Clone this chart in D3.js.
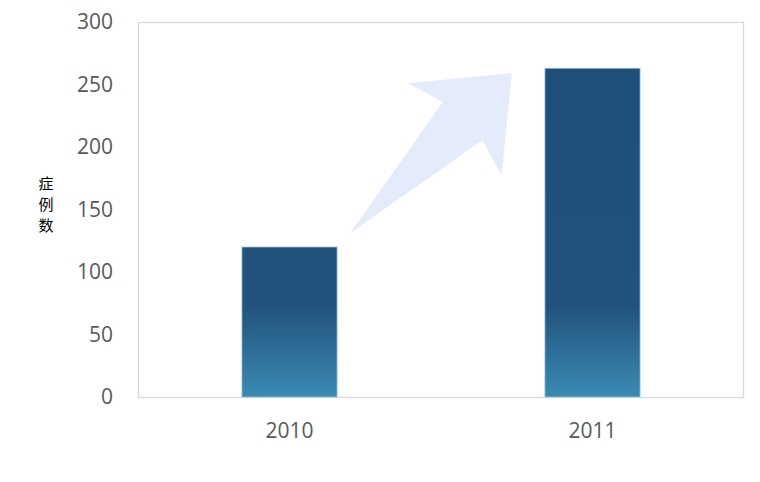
<!DOCTYPE html>
<html><head><meta charset="utf-8">
<script src="https://cdn.jsdelivr.net/npm/d3@7/dist/d3.min.js"></script>
<style>body{margin:0;background:#fff}</style>
</head><body>
<svg id="c" width="760" height="482"></svg>
<script>
const categories = ["2010", "2011"];
const values = [120, 263];
const yTicks = [0, 50, 100, 150, 200, 250, 300];
const yLabelChars = ["症", "例", "数"];

const svg = d3.select("#c");
const m = {left: 138, right: 16, top: 22, bottom: 85};
const W = 760, H = 482;
const x = d3.scaleBand().domain(categories).range([m.left, W - m.right]).paddingInner(0.686).paddingOuter(0.343);
const y = d3.scaleLinear().domain([0, 300]).range([H - m.bottom, m.top]);

const defs = svg.append("defs");
const g = defs.append("linearGradient").attr("id", "bg").attr("gradientUnits", "userSpaceOnUse")
  .attr("x1", 0).attr("x2", 0).attr("y1", y(300)).attr("y2", y(0));
g.append("stop").attr("offset", 0).attr("stop-color", "#1f4d77");
g.append("stop").attr("offset", 0.76).attr("stop-color", "#22537d");
g.append("stop").attr("offset", 1).attr("stop-color", "#3a8ab3");

// plot frame
svg.append("rect").attr("x", m.left + 0.5).attr("y", y(300) + 0.5)
  .attr("width", W - m.right - m.left - 1).attr("height", y(0) - y(300))
  .attr("fill", "none").attr("stroke", "#d9d9d9").attr("stroke-width", 1.3);

// decorative arrow (relative to plot frame)
const pw = W - m.right - m.left, ph = y(0) - y(300);
const arrowRel = [[0.350,0.563],[0.503,0.213],[0.446,0.163],[0.617,0.136],[0.600,0.408],[0.568,0.315]];
svg.append("polygon")
  .attr("points", arrowRel.map(p => [m.left + p[0]*pw, y(300) + p[1]*ph].join(",")).join(" "))
  .attr("fill", "#e4ebfb");

// bars
svg.selectAll(".bar").data(values).join("rect")
  .attr("x", (d, i) => x(categories[i]))
  .attr("y", d => y(d))
  .attr("width", x.bandwidth())
  .attr("height", d => y(0) - y(d))
  .attr("fill", "url(#bg)")
  .attr("stroke", "#9cc3e0").attr("stroke-width", 0.8);

// y axis
const ya = svg.append("g").attr("transform", `translate(${m.left},0)`)
  .call(d3.axisLeft(y).tickValues(yTicks).tickSize(0).tickPadding(25));
ya.select(".domain").remove();
ya.selectAll("text").attr("font-family", "Open Sans, sans-serif").attr("font-size", 21).attr("fill", "#595959");

// x axis
const xa = svg.append("g").attr("transform", `translate(0,${y(0)})`)
  .call(d3.axisBottom(x).tickSize(0).tickPadding(26));
xa.select(".domain").remove();
xa.selectAll("text").attr("font-family", "Open Sans, sans-serif").attr("font-size", 21).attr("fill", "#595959");

// y label
svg.append("g").selectAll("text").data(yLabelChars).join("text")
  .attr("x", 46).attr("y", (d, i) => 189 + i * 21)
  .attr("text-anchor", "middle")
  .attr("font-family", "Noto Sans CJK SC, sans-serif").attr("font-size", 15).attr("fill", "#000")
  .text(d => d);
</script>
</body></html>
